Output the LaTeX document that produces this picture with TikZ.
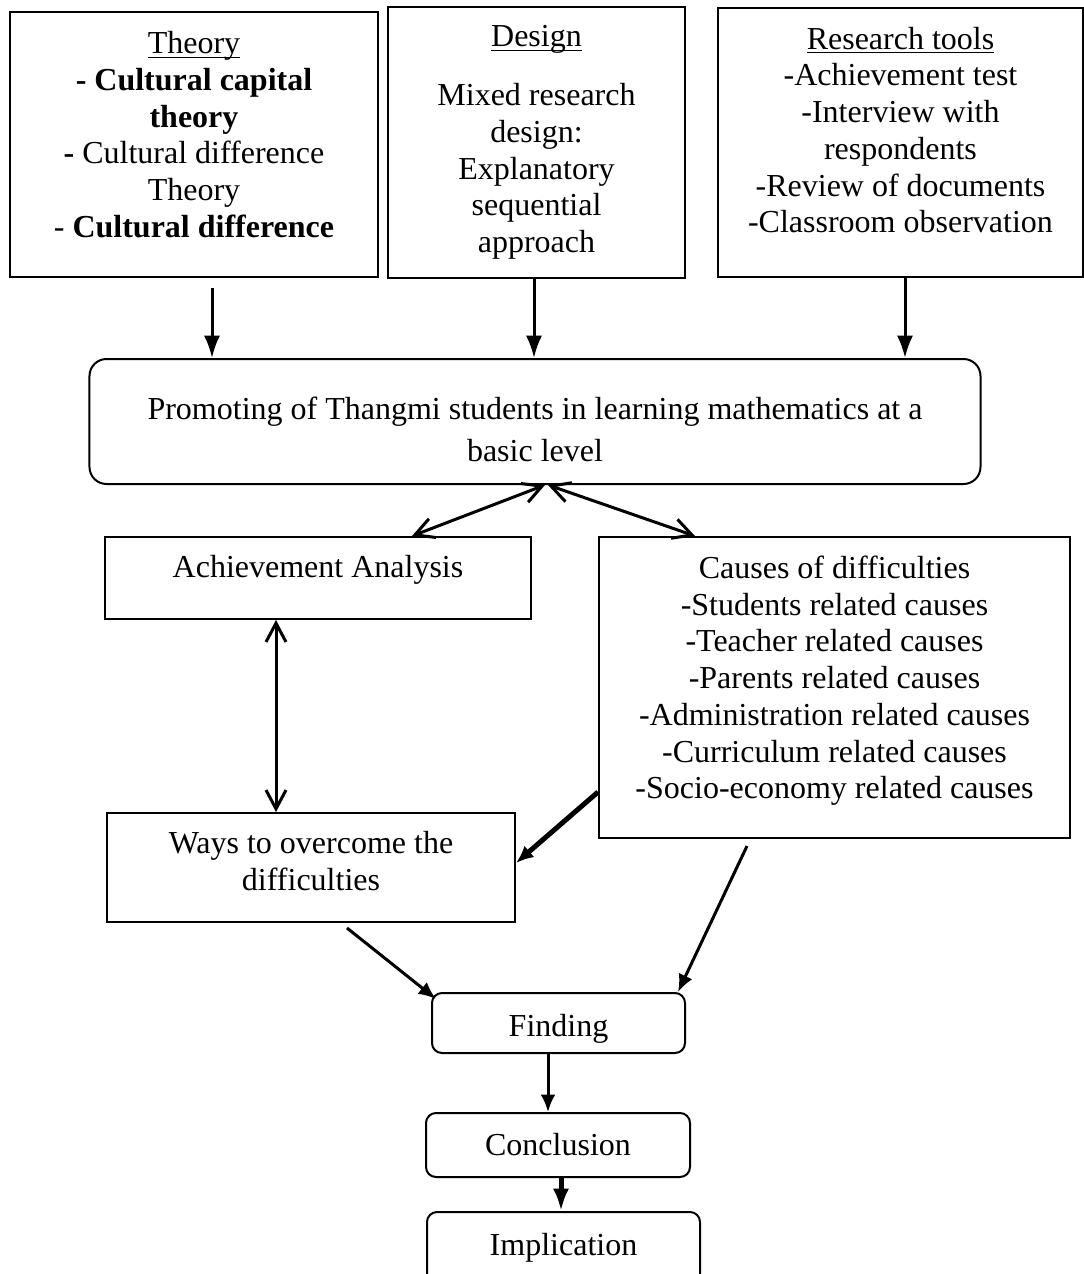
\documentclass[tikz,border=0pt]{standalone}
\usepackage{fontspec}
\setmainfont{Liberation Serif}
\usepackage{tikz}
\usetikzlibrary{calc,arrows.meta}
\newsavebox{\headbox}
\newcommand{\headline}[1]{\sbox{\headbox}{#1}\rlap{\rule[-1.6pt]{\wd\headbox}{0.45pt}}\usebox{\headbox}}

\begin{document}
\begin{tikzpicture}[x=0.4pt, y=-0.4pt,
    box/.style={draw, line width=0.8pt, align=center, inner sep=0pt,
        font=\fontsize{12.8}{14.7}\selectfont},
    roundbox/.style={box, rounded corners=4pt},
    toparr/.style={-{Latex[length=9pt,width=6.5pt]}, line width=1.2pt},
    arr/.style={-{Latex[length=7pt,width=6pt]}, line width=1.2pt},
    dblarr/.style={{Straight Barb[length=7.5pt,width=8pt]}-{Straight Barb[length=7.5pt,width=8pt]}, line width=1.2pt}]
    \useasboundingbox (0,0) rectangle (1084,1274);
    \clip (0,0) rectangle (1084,1274);

    % Top row: theory, design, tools
    \node[box, minimum width=147.2pt, minimum height=106pt] (theory) at (194,144.5)
        {\headline{Theory}\\ \textbf{- Cultural capital}\\ \textbf{theory}\\ \textbf{-} Cultural difference\\ Theory\\ - \textbf{Cultural difference}\rule[-8pt]{0pt}{0pt}};
    \node[box, minimum width=118.8pt, minimum height=108.4pt] (design) at (536.5,142.5)
        {\headline{Design}\\[8.8pt] Mixed research\\ design:\\ Explanatory\\ sequential\\ approach};
    \node[box, minimum width=146pt, minimum height=107.6pt] (tools) at (900.5,142.5)
        {\headline{Research tools}\\ -Achievement test\\ -Interview with\\ respondents\\ -Review of documents\\ -Classroom observation\rule[-10pt]{0pt}{0pt}};

    % Main box
    \node[box, rounded corners=6.8pt, minimum width=356.4pt, minimum height=50pt] (main) at (535,421.5)
        {\rule{0pt}{15.4pt}Promoting of Thangmi students in learning mathematics at a\\[2.1pt] basic level};

    % Analysis and causes
    \node[box, minimum width=170.4pt, minimum height=32.8pt, text height=8.7pt, text depth=9.4pt] (achieve) at (318,578)
        {Achievement Analysis};
    \node[box, minimum width=188.4pt, minimum height=120.4pt] (causes) at (834.5,687.5)
        {Causes of difficulties\\ -Students related causes\\ -Teacher related causes\\ -Parents related causes\\ -Administration related causes\\ -Curriculum related causes\\ -Socio-economy related causes\rule[-8.2pt]{0pt}{0pt}};
    \node[box, minimum width=163.2pt, minimum height=43.6pt] (ways) at (311,867.5)
        {Ways to overcome the\\ difficulties\rule[-5.2pt]{0pt}{0pt}};

    % Bottom chain
    \node[roundbox, minimum width=101.2pt, minimum height=24pt, text height=13.8pt, text depth=2.8pt] (finding) at (558.5,1023) {Finding};
    \node[roundbox, minimum width=105.6pt, minimum height=25.6pt] (conclusion) at (558,1145) {Conclusion};
    \node[roundbox, minimum width=109.2pt, minimum height=28.8pt] (implication) at (563.5,1248) {Implication};

    % Arrows into main box
    \draw[toparr] ($(212,0 |- theory.south)+(0,10)$) -- (212,0 |- main.north);
    \draw[toparr] (534,0 |- design.south) -- (534,0 |- main.north);
    \draw[toparr] (905,0 |- tools.south) -- (905,0 |- main.north);

    % Two-way links
    \draw[dblarr] (545,0 |- main.south) -- (412,0 |- achieve.north);
    \draw[dblarr] (548,0 |- main.south) -- (695,0 |- causes.north);
    \draw[dblarr] (276,0 |- achieve.south) -- (276,0 |- ways.north);

    % Towards the finding
    \draw[arr, line width=2pt] (causes.west |- 0,792) -- (ways.east |- 0,863);
    \draw[arr] ($(347,0 |- ways.south)+(0,5)$) -- ([shift={(5,7)}]finding.north west);
    \draw[arr] ($(747,0 |- causes.south)+(0,7)$) -- (678,0 |- finding.north);
    \draw[arr] (548,0 |- finding.south) -- (548,0 |- conclusion.north);
    \draw[-{Latex[length=9pt,width=6.5pt]}, line width=2pt] (561,0 |- conclusion.south) -- (561,0 |- implication.north);
\end{tikzpicture}
\end{document}
